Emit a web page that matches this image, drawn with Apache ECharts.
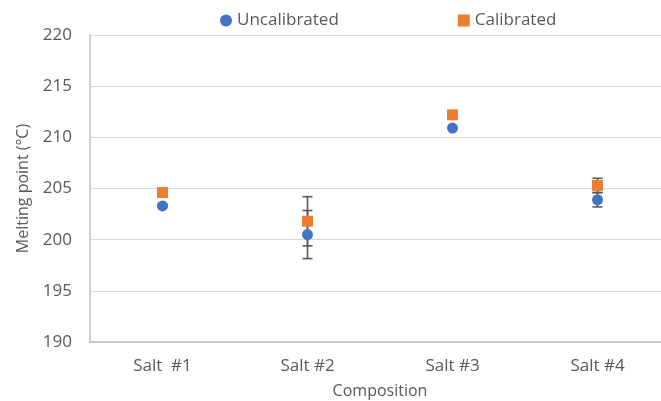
<!DOCTYPE html>
<html><head><meta charset="utf-8">
<script src="https://cdn.jsdelivr.net/npm/echarts@6/dist/echarts.min.js"></script>
<style>html,body{margin:0;padding:0;background:#fff}#c{width:661px;height:401px}</style>
</head><body><div id="c"></div>
<script>
const categories = ['Salt  #1', 'Salt #2', 'Salt #3', 'Salt #4'];
const uncalibrated = [203.3, 200.5, 210.9, 203.9];
const calibrated = [204.6, 201.8, 212.2, 205.3];
const uncalErr = [0.15, 2.35, 0, 0.7];
const calErr = [0.15, 2.4, 0, 0.7];
const yTicks = [190, 195, 200, 205, 210, 215, 220];

const font = 'Open Sans, Liberation Sans, sans-serif';
function errData(vals, errs) {
  return vals.map((v, i) => [i, v - errs[i], v + errs[i]]);
}
function errRender(params, api) {
  const x = api.value(0);
  const lo = api.coord([x, api.value(1)]);
  const hi = api.coord([x, api.value(2)]);
  if (Math.abs(hi[1] - lo[1]) < 1) return null;
  const w = 5;
  const st = { stroke: '#595959', lineWidth: 1.6 };
  return { type: 'group', children: [
    { type: 'line', shape: { x1: lo[0], y1: lo[1], x2: hi[0], y2: hi[1] }, style: st },
    { type: 'line', shape: { x1: lo[0] - w, y1: lo[1], x2: lo[0] + w, y2: lo[1] }, style: st },
    { type: 'line', shape: { x1: hi[0] - w, y1: hi[1], x2: hi[0] + w, y2: hi[1] }, style: st }
  ]};
}
const chart = echarts.init(document.getElementById('c'), null, { renderer: 'canvas' });
chart.setOption({
  animation: false,
  textStyle: { fontFamily: font },
  legend: {
    top: 7, left: 215, itemGap: 119, itemWidth: 12, itemHeight: 12,
    textStyle: { fontSize: 17, color: '#595959', fontFamily: font },
    data: [{ name: 'Uncalibrated', icon: 'circle' }, { name: 'Calibrated', icon: 'rect' }]
  },
  grid: { left: 90, top: 35, width: 580, height: 307, containLabel: false, outerBoundsMode: 'none' },
  xAxis: {
    type: 'category', data: categories,
    name: 'Composition', nameLocation: 'middle', nameGap: 41,
    nameTextStyle: { fontSize: 16, color: '#595959' },
    axisLine: { lineStyle: { color: '#bfbfbf', width: 1.5 } },
    axisTick: { show: false },
    axisLabel: { fontSize: 17, color: '#595959', margin: 16 }
  },
  yAxis: {
    type: 'value', min: yTicks[0], max: yTicks[yTicks.length - 1], interval: 5,
    name: 'Melting point (°C)', nameLocation: 'middle', nameGap: 59,
    nameTextStyle: { fontSize: 16, color: '#595959' },
    axisLine: { show: true, lineStyle: { color: '#bfbfbf', width: 1.5 } },
    axisTick: { show: false },
    splitLine: { lineStyle: { color: '#d9d9d9', width: 1 } },
    axisLabel: { fontSize: 17, color: '#595959', margin: 18 }
  },
  series: [
    { name: 'UncalErr', type: 'custom', renderItem: errRender, data: errData(uncalibrated, uncalErr), encode: { x: 0, y: [1, 2] }, z: 1, silent: true },
    { name: 'CalErr', type: 'custom', renderItem: errRender, data: errData(calibrated, calErr), encode: { x: 0, y: [1, 2] }, z: 1, silent: true },
    { name: 'Uncalibrated', type: 'scatter', symbol: 'circle', symbolSize: 11, data: uncalibrated, itemStyle: { color: '#4472c4', opacity: 1 }, z: 3 },
    { name: 'Calibrated', type: 'scatter', symbol: 'rect', symbolSize: 11, data: calibrated, itemStyle: { color: '#ed7d31', opacity: 1 }, z: 2 }
  ]
});
</script></body></html>
